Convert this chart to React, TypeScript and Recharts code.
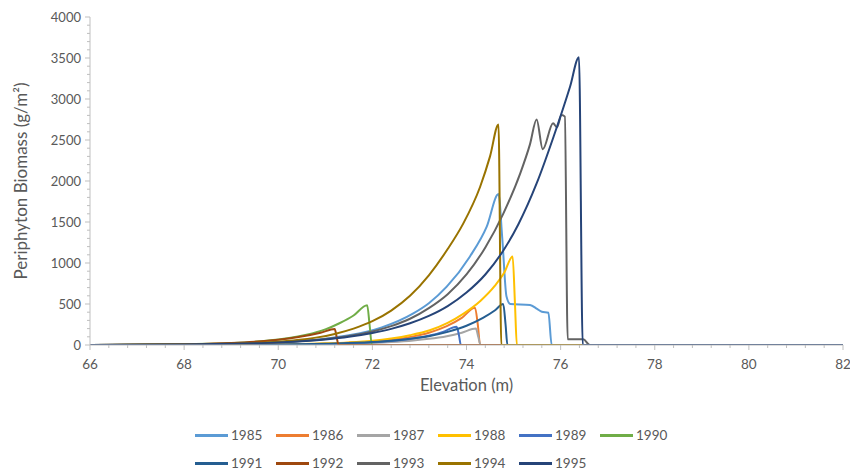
import React from 'react';
import { LineChart, Line, XAxis, YAxis } from 'recharts';

// elevation (m), biomass (g/m2)
const s1985 = [[66, 0], [68, 6], [69, 14], [70, 33], [71, 77], [71.5, 118], [72.2, 215], [72.87, 386], [73.2, 510], [73.58, 711], [74.07, 1077], [74.43, 1443], [74.68, 1840], [74.76, 1300], [74.85, 590], [74.93, 500], [75.35, 488], [75.5, 440], [75.6, 406], [75.74, 394], [75.81, 0], [82, 0]];
const s1986 = [[66, 0], [70, 6], [71, 16], [71.5, 27], [72, 44], [72.4, 65], [72.87, 105], [73.2, 150], [73.58, 230], [73.9, 330], [74.18, 455], [74.24, 250], [74.29, 0], [82, 0]];
const s1987 = [[66, 0], [70, 3], [71, 9], [72, 25], [72.4, 36], [72.87, 55], [73.2, 75], [73.58, 108], [73.9, 150], [74.2, 200], [74.25, 100], [74.3, 0], [82, 0]];
const s1988 = [[66, 0], [70, 7], [71, 20], [71.5, 32], [72, 52], [72.4, 80], [72.8, 120], [73.22, 180], [73.6, 270], [73.93, 380], [74.3, 540], [74.6, 720], [74.8, 880], [74.98, 1080], [75.03, 500], [75.07, 0], [82, 0]];
const s1989 = [[66, 0], [70, 4], [71, 12], [72, 32], [72.4, 48], [72.8, 73], [73.22, 115], [73.5, 160], [73.79, 223], [73.84, 120], [73.88, 0], [82, 0]];
const s1990 = [[66, 0], [67, 3], [68, 8], [68.5, 14], [69.3, 32], [69.75, 52], [70.2, 82], [70.6, 125], [71.0, 190], [71.3, 265], [71.6, 360], [71.89, 485], [71.94, 250], [71.99, 0], [82, 0]];
const s1991 = [[66, 0], [70, 6], [71, 15], [72, 36], [72.4, 52], [72.8, 75], [73.22, 110], [73.6, 160], [74.0, 235], [74.35, 330], [74.6, 420], [74.78, 500], [74.83, 250], [74.87, 0], [82, 0]];
const s1992 = [[66, 0], [67, 3], [68, 9], [69, 24], [69.5, 40], [70, 65], [70.46, 100], [70.9, 150], [71.2, 195], [71.24, 100], [71.28, 0], [82, 0]];
const s1993 = [[66, 0], [68, 5], [69, 12], [70, 30], [71, 72], [71.5, 110], [72, 165], [72.4, 230], [72.8, 320], [73.2, 450], [73.6, 620], [74.0, 860], [74.4, 1190], [74.78, 1600], [75.14, 2090], [75.35, 2450], [75.49, 2750], [75.62, 2386], [75.84, 2703], [75.92, 2655], [76.02, 2805], [76.09, 2785], [76.15, 70], [76.48, 70], [76.62, 0], [82, 0]];
const s1994 = [[66, 0], [68, 5], [69, 14], [70, 40], [70.4, 60], [70.8, 90], [71.2, 135], [71.6, 200], [72, 290], [72.4, 420], [72.8, 600], [73.2, 850], [73.6, 1170], [73.93, 1480], [74.29, 1930], [74.5, 2300], [74.68, 2690], [74.74, 0], [82, 0]];
const s1995 = [[66, 0], [68, 7], [69, 15], [70, 32], [71, 68], [71.5, 100], [72, 147], [72.4, 197], [72.8, 265], [73.2, 355], [73.6, 475], [74.0, 640], [74.4, 860], [74.78, 1150], [75.1, 1470], [75.49, 1970], [75.85, 2540], [76.2, 3150], [76.39, 3510], [76.47, 0], [82, 0]];

const years = ['1985', '1986', '1987', '1988', '1989', '1990', '1991', '1992', '1993', '1994', '1995'];
const seriesValues = [s1985, s1986, s1987, s1988, s1989, s1990, s1991, s1992, s1993, s1994, s1995];
const colors = ['#5B9BD5', '#ED7D31', '#A5A5A5', '#FFC000', '#4472C4', '#70AD47', '#255E91', '#9E480E', '#636363', '#997300', '#264478'];

const xMajorTicks = [66, 68, 70, 72, 74, 76, 78, 80, 82];
const yMajorTicks = [0, 500, 1000, 1500, 2000, 2500, 3000, 3500, 4000];

// minor ticks: 5 per major step on x, every 100 on y
const xTicks = xMajorTicks.flatMap((t, i) =>
  i === 0 ? [t] : [1, 2, 3, 4, 5].map(k => xMajorTicks[i - 1] + (k * (t - xMajorTicks[i - 1])) / 5)
);
const yTicks = yMajorTicks.flatMap((t, i) =>
  i === 0 ? [t] : [1, 2, 3, 4, 5].map(k => yMajorTicks[i - 1] + (k * (t - yMajorTicks[i - 1])) / 5)
);

const FONT = 'Lato, "Open Sans", sans-serif';
const AXIS = '#BFBFBF';
const TEXT = '#595959';

const XTick = ({ x, y, payload }: any) => {
  const v = payload.value;
  const major = xMajorTicks.some(t => Math.abs(t - v) < 1e-6);
  return (
    <g>
      <line x1={x} x2={x} y1={y} y2={y + (major ? 5 : 3)} stroke={AXIS} />
      {major && (
        <text x={x} y={y + 24} textAnchor="middle" fill={TEXT} fontSize={13.5} fontFamily={FONT}>
          {Math.round(v)}
        </text>
      )}
    </g>
  );
};

const YTick = ({ x, y, payload }: any) => {
  const v = payload.value;
  const major = yMajorTicks.some(t => Math.abs(t - v) < 1e-6);
  return (
    <g>
      <line x1={x - (major ? 5 : 3)} x2={x} y1={y} y2={y} stroke={AXIS} />
      {major && (
        <text x={x - 9} y={y + 4.5} textAnchor="end" fill={TEXT} fontSize={13} fontFamily={FONT}>
          {Math.round(v)}
        </text>
      )}
    </g>
  );
};

export default function App() {
  return (
    <div style={{ position: 'absolute', left: 0, top: 0, width: 850, height: 473, background: '#fff', fontFamily: FONT }}>
      <LineChart width={850} height={473} margin={{ top: 17, right: 7, left: 0, bottom: 78 }}>
        <XAxis
          type="number"
          dataKey="x"
          domain={[66, 82]}
          ticks={xTicks}
          interval={0}
          tick={<XTick />}
          tickLine={false}
          tickSize={0}
          tickMargin={0}
          height={50}
          stroke={AXIS}
          allowDataOverflow
          label={{ value: 'Elevation (m)', position: 'insideBottom', offset: 4, fill: TEXT, fontSize: 16.5, fontFamily: FONT }}
        />
        <YAxis
          type="number"
          dataKey="y"
          domain={[0, 4000]}
          ticks={yTicks}
          interval={0}
          tick={<YTick />}
          tickLine={false}
          tickSize={0}
          tickMargin={0}
          width={90}
          stroke={AXIS}
          allowDataOverflow
          label={{
            value: 'Periphyton Biomass (g/m²)',
            angle: -90,
            position: 'insideLeft',
            offset: 21,
            fill: TEXT,
            fontSize: 17,
            fontFamily: FONT,
            style: { textAnchor: 'middle' },
          }}
        />
        {years.map((yr, i) => (
          <Line
            key={yr}
            name={yr}
            data={seriesValues[i].map(([x, y]) => ({ x, y }))}
            dataKey="y"
            type="monotone"
            stroke={colors[i]}
            strokeWidth={2}
            dot={false}
            activeDot={false}
            isAnimationActive={false}
          />
        ))}
      </LineChart>
      <div
        style={{
          position: 'absolute',
          left: 195,
          top: 425,
          width: 490,
          display: 'grid',
          gridTemplateColumns: 'repeat(6, 81px)',
          rowGap: 8,
        }}
      >
        {years.map((yr, i) => (
          <div key={yr} style={{ display: 'flex', alignItems: 'center', height: 20 }}>
            <span style={{ display: 'inline-block', width: 33, height: 3, background: colors[i], marginRight: 3 }} />
            <span style={{ fontSize: 13.5, color: TEXT }}>{yr}</span>
          </div>
        ))}
      </div>
    </div>
  );
}
